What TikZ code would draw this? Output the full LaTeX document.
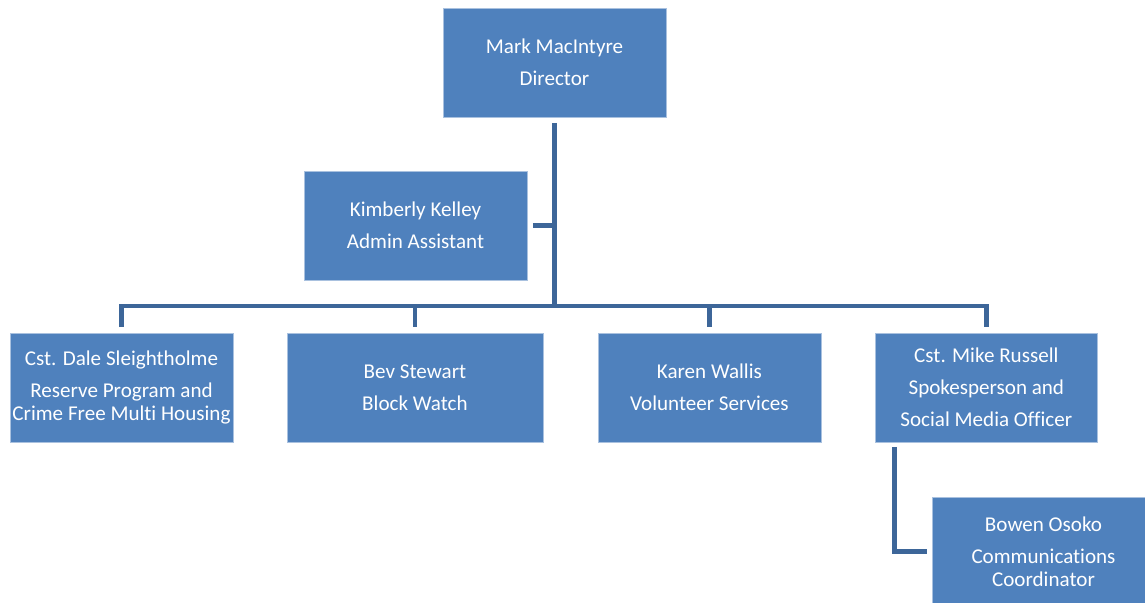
\documentclass[tikz,border=0pt]{standalone}
\usepackage{fontspec}
\setmainfont{Carlito}[Ligatures=NoCommon]
\usetikzlibrary{positioning}
\definecolor{boxblue}{HTML}{4F81BD}
\definecolor{boxedge}{HTML}{A9C1DF}
\definecolor{linkblue}{HTML}{3D6699}
\tikzset{
    % Define box style
    person/.style={
           rectangle,
           fill=boxblue,
           draw=boxedge,
           line width=0.4pt,
           text=white,
           align=center,
           inner sep=0pt,
           outer sep=0pt,
           minimum width=4.46cm,
           minimum height=2.18cm,
           font=\fontsize{12}{13}\selectfont,},
    % Define connector style
    link/.style={
           draw=linkblue,
           line width=2.7pt,
           line join=miter,}
}

\begin{document}
\begin{tikzpicture}[x=0.02cm, y=-0.02cm]
\useasboundingbox (0,0) rectangle (1145,602);
\clip (0,0) rectangle (1145,602);
%Nodes
\node[person](dir) at (554.5,62.5){Mark MacIntyre\\[5.2pt]Director};
\node[person](kim) at (415.5,225.5){Kimberly Kelley\\[5.2pt]Admin Assistant};

\node[person](dale) at (121.5,387.5){Cst. Dale Sleightholme\\[5.2pt]Reserve Program and\\Crime Free Multi Housing};
\node[person, minimum width=5.12cm](bev)[right=1.08cm of dale]{Bev Stewart\\[5.2pt]Block Watch};
\node[person](karen)[right=1.1cm of bev]{Karen Wallis\\[5.2pt]Volunteer Services};
\node[person](mike)[right=1.08cm of karen]{Cst. Mike Russell\\[5.2pt]Spokesperson and\\[5.2pt]Social Media Officer};

\node[person](bowen) at (1043.5,551.5){Bowen Osoko\\[5.2pt]Communications\\Coordinator};

\coordinate (bar) at (554.5,306);

%Connectors
\draw[link, shorten <=0.12cm] (dir.south) -- (dir.south |- bar);
\draw[link, shorten <=0.12cm] (kim.east) -- (kim.east -| dir.south);
\draw[link, shorten <=0.12cm, shorten >=0.12cm] (dale.north) -- (bar -| dale.north) -- (bar -| mike.north) -- (mike.north);
\foreach \n in {bev,karen}
    \draw[link, shorten >=0.12cm] (bar -| \n.north) -- (\n.north);
\draw[link, shorten <=0.1cm, shorten >=0.1cm] ([xshift=0.4cm]mike.south west) |- (bowen.west);

\end{tikzpicture}
\end{document}
